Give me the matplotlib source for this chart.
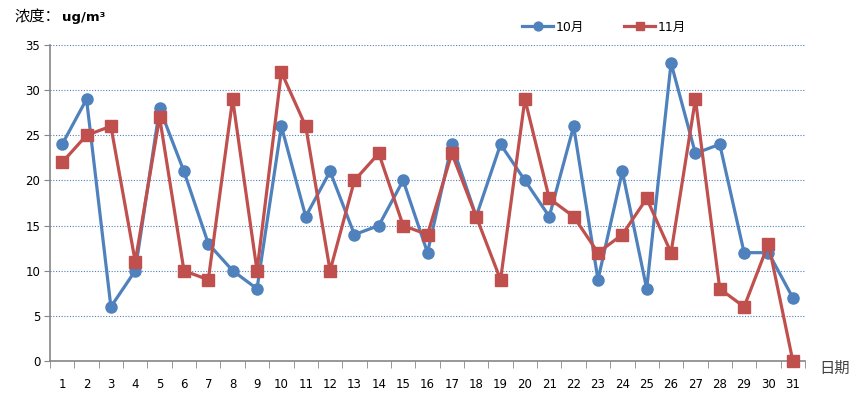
import matplotlib.pyplot as plt
import numpy as np

plt.rcParams['font.family'] = ['DejaVu Sans', 'Noto Sans CJK SC']

# Daily concentration (ug/m3) for October and November
days = [str(d) for d in range(1, 32)]
oct_vals = [24, 29, 6, 10, 28, 21, 13, 10, 8, 26, 16, 21, 14, 15, 20, 12,
            24, 16, 24, 20, 16, 26, 9, 21, 8, 33, 23, 24, 12, 12, 7]
nov_vals = [22, 25, 26, 11, 27, 10, 9, 29, 10, 32, 26, 10, 20, 23, 15, 14,
            23, 16, 9, 29, 18, 16, 12, 14, 18, 12, 29, 8, 6, 13, 0]
y_ticks = [0, 5, 10, 15, 20, 25, 30, 35]

blue = '#4F81BD'
red = '#C0504D'
axis_grey = '#868686'

fig = plt.figure(figsize=(8.58, 3.95), dpi=100)
ax = fig.add_axes([50 / 858, 1 - 361 / 395, 755 / 858, 316 / 395])

x = np.arange(len(days))
ax.plot(x, oct_vals, color=blue, linewidth=2.3, marker='o', markersize=8,
        label='10月', clip_on=False, zorder=3)
ax.plot(x, nov_vals, color=red, linewidth=2.3, marker='s', markersize=8,
        label='11月', clip_on=False, zorder=4)

ax.set_xlim(-0.5, len(days) - 0.5)
ax.set_ylim(0, 35)
ax.set_yticks(y_ticks)
ax.set_xticks(x)
ax.set_xticklabels(days)
ax.set_xticks(np.arange(-0.5, len(days)), minor=True)
ax.tick_params(axis='x', which='major', length=0, pad=12, labelsize=8.5)
ax.tick_params(axis='x', which='minor', length=5, color=axis_grey, direction='out')
ax.tick_params(axis='y', length=4, color=axis_grey, labelsize=8.5, pad=3)

ax.grid(axis='y', color=blue, linestyle=(0, (1, 1.5)), linewidth=0.8)
ax.set_axisbelow(True)
for side in ['top', 'right']:
    ax.spines[side].set_visible(False)
for side in ['left', 'bottom']:
    ax.spines[side].set_color(axis_grey)
    ax.spines[side].set_linewidth(1.2)

# Unit label and axis title
fig.text(14 / 858, 1 - 17 / 395, '浓度：', fontsize=11, va='center',
         family=['Noto Sans CJK SC'])
fig.text(62 / 858, 1 - 17 / 395, 'ug/m³', fontsize=9.5, va='center',
         fontweight='bold')
fig.text(819 / 858, 1 - 368 / 395, '日期', fontsize=11, va='center',
         family=['Noto Sans CJK SC'], color='#404040')

ax.legend(loc='center', bbox_to_anchor=(604 / 858, 1 - 27 / 395),
          bbox_transform=fig.transFigure, ncol=2, frameon=False,
          handlelength=2.5, columnspacing=3.2, handletextpad=0.2,
          prop={'family': ['DejaVu Sans', 'Noto Sans CJK SC'], 'size': 9},
          markerscale=0.8)

fig.savefig('out.png', dpi=100)
